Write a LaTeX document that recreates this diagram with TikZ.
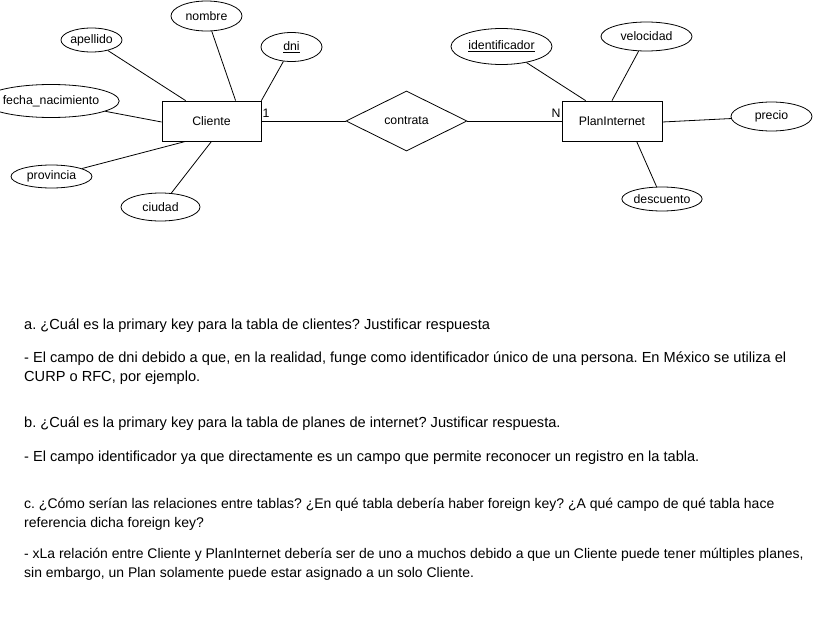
\documentclass[tikz,border=0pt]{standalone}
\usepackage{fontspec}
\setmainfont{Liberation Sans}
\usetikzlibrary{shapes.geometric}
\frenchspacing
\tikzset{
    normal/.style={draw, line width=0.8pt},
    ent/.style={style=normal, rectangle, inner sep=0pt, minimum height=40pt, font=\fontsize{12.3}{14}\selectfont}, % entities
    attr/.style={style=normal, ellipse, inner sep=0pt, font=\fontsize{12.3}{14}\selectfont}, % attributes
    rel/.style={style=normal, diamond, inner sep=0pt, minimum width=121pt, minimum height=60pt, font=\fontsize{12.3}{14}\selectfont}, % relationship
    te/.style={style=normal}, % attribute edges
    card/.style={inner sep=0pt, font=\fontsize{12.3}{14}\selectfont}, % cardinality
    para/.style={anchor=base west, align=left, inner sep=0pt, font=\fontsize{14.6}{18.5}\selectfont} % base = last line
}

\begin{document}
\begin{tikzpicture}[x=1pt, y=-1pt]
        \useasboundingbox (0,0) rectangle (813,618);

        % entities and relationship
        \node[ent, minimum width=99pt] (Cliente) at (211.5,121) {Cliente};
        \node[rel] (contrata) at (406.5,121) {contrata};
        \node[ent, minimum width=100pt] (Plan) at (612,121) {PlanInternet};

        % attributes of Cliente
        \node[attr, minimum width=71pt, minimum height=30pt] (nombre) at (206.5,16) {nombre};
        \node[attr, minimum width=61pt, minimum height=24pt] (apellido) at (91.5,40) {apellido};
        \node[attr, minimum width=61pt, minimum height=29pt] (dni) at (291.5,47) {\underline{dni}};
        \node[attr, minimum width=101pt, minimum height=33pt] (fecha) at (51,101) {fecha\_nacimiento};
        \node[attr, minimum width=81pt, minimum height=23pt] (provincia) at (51.5,176.5) {provincia};
        \node[attr, minimum width=79pt, minimum height=28pt] (ciudad) at (160.5,207) {ciudad};

        % attributes of PlanInternet
        \node[attr, minimum width=101pt, minimum height=36pt] (ident) at (501.5,46.5) {\underline{identificador}};
        \node[attr, minimum width=91pt, minimum height=29pt] (velocidad) at (646.5,36.5) {velocidad};
        \node[attr, minimum width=81pt, minimum height=29pt] (precio) at (771.5,116.5) {precio};
        \node[attr, minimum width=80pt, minimum height=24pt] (descuento) at (662,199) {descuento};

        \draw[te] (apellido) -- ([xshift=24pt]Cliente.north west);
        \draw[te] (nombre) -- ([xshift=74pt]Cliente.north west);
        \draw[te] (dni) -- (Cliente.north east);
        \draw[te] (fecha) -- ([yshift=-1pt]Cliente.west);
        \draw[te] (provincia) -- ([xshift=24pt]Cliente.south west);
        \draw[te] (ciudad) -- (Cliente.south);

        \draw[te] (ident) -- ([xshift=24pt]Plan.north west);
        \draw[te] (velocidad) -- (Plan.north);
        \draw[te] (precio) -- ([yshift=-1pt]Plan.east);
        \draw[te] (descuento) -- ([xshift=75pt]Plan.south west);

        % relationship edges
        \draw[te] (Cliente) -- (contrata);
        \draw[te] (contrata) -- (Plan);
        \node[card] (one) at (266,113) {1};
        \node[card] (many) at (556,113) {N};

        % questions and answers
        \node[para] (qa) at (24,329) {a. ¿Cuál es la primary key para la tabla de clientes? Justificar respuesta};
        \node[para] (ra) at (24,381) {- El campo de dni debido a que, en la realidad, funge como identificador único de una persona. En México se utiliza el\\CURP o RFC, por ejemplo.};
        \node[para] (qb) at (24,427) {b. ¿Cuál es la primary key para la tabla de planes de internet? Justificar respuesta.};
        \node[para] (rb) at (24,461) {- El campo identificador ya que directamente es un campo que permite reconocer un registro en la tabla.};
        \node[para, font=\fontsize{14}{18.5}\selectfont] (qc) at (24,527) {c. ¿Cómo serían las relaciones entre tablas? ¿En qué tabla debería haber foreign key? ¿A qué campo de qué tabla hace\\referencia dicha foreign key?};
        \node[para, font=\fontsize{13.95}{18.5}\selectfont] (rc) at (24,577) {- xLa relación entre Cliente y PlanInternet debería ser de uno a muchos debido a que un Cliente puede tener múltiples planes,\\sin embargo, un Plan solamente puede estar asignado a un solo Cliente.};
      \end{tikzpicture}
\end{document}
